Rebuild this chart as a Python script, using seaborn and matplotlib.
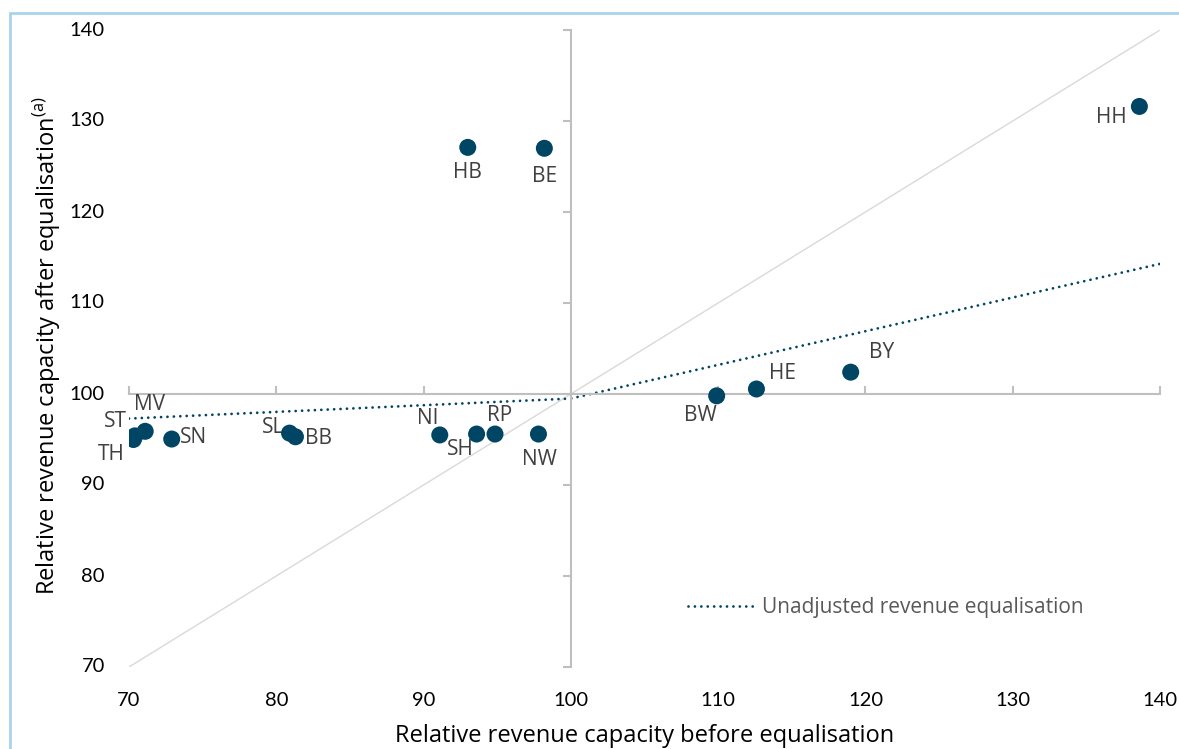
import matplotlib
matplotlib.use("Agg")
import matplotlib.pyplot as plt
import matplotlib.transforms as mtransforms
from matplotlib.patches import Rectangle
import pandas as pd
import seaborn as sns

# States: revenue capacity before / after equalisation
states = ["HH", "HB", "BE", "BY", "HE", "BW", "NW", "RP", "SH", "NI",
          "BB", "SL", "SN", "MV", "ST", "TH"]
before = [138.6, 93.0, 98.2, 119.0, 112.6, 109.9, 97.8, 94.85, 93.6, 91.1,
          81.3, 80.9, 72.9, 71.1, 70.4, 70.3]
after = [131.6, 127.1, 127.0, 102.4, 100.55, 99.8, 95.6, 95.6, 95.6, 95.5,
         95.3, 95.7, 95.05, 95.9, 95.4, 95.0]

# label offsets in points (dx, dy) and alignment
label_offsets = {
    "HH": (-9, -8, "right"), "HB": (0, -18, "center"), "BE": (0, -20, "center"),
    "BY": (13, 14, "left"), "HE": (9, 11, "left"), "BW": (-12, -14, "center"),
    "NW": (1, -18, "center"), "RP": (3, 13, "center"), "SH": (-12, -11, "center"),
    "NI": (-9, 12, "center"), "BB": (7, -1, "left"), "SL": (-12, 4, "center"),
    "SN": (6, 1, "left"), "MV": (3, 19, "center"), "ST": (-6, 10, "right"),
    "TH": (-6, -11, "right"),
}

# unadjusted revenue equalisation line
line_x = [70, 100, 140]
line_y = [97.3, 99.5, 114.3]

diag = [70, 140]
x_ticks = [70, 80, 90, 100, 110, 120, 130, 140]
y_ticks = [70, 80, 90, 100, 110, 120, 130, 140]

DOT = "#004563"
GRAY = "#404040"
AXIS = "#BFBFBF"


def main():
    sns.set_style("white")
    plt.rcParams["font.family"] = ["Open Sans", "DejaVu Sans"]
    plt.rcParams["mathtext.fontset"] = "custom"
    plt.rcParams["mathtext.rm"] = "Open Sans"

    df = pd.DataFrame({"state": states, "before": before, "after": after})

    fig = plt.figure(figsize=(11.79, 7.49), dpi=100)
    ax = fig.add_axes([129 / 1179, 1 - 667 / 749, 1031 / 1179, 637 / 749])

    sns.lineplot(x=diag, y=diag, ax=ax, color="#D9D9D9", lw=1)
    sns.lineplot(x=line_x, y=line_y, ax=ax, color=DOT, lw=2.0,
                 linestyle=(0, (0.01, 2.3)), dash_capstyle="round",
                 label="Unadjusted revenue equalisation")
    sns.scatterplot(data=df, x="before", y="after", ax=ax, color=DOT,
                    s=150, edgecolor="none", zorder=5)

    for st, xv, yv in zip(states, before, after):
        dx, dy, ha = label_offsets[st]
        ax.annotate(st, (xv, yv), xytext=(dx, dy), textcoords="offset points",
                    ha=ha, va="center", fontsize=15, color=GRAY)

    ax.set_xlim(70, 140)
    ax.set_ylim(70, 140)

    # axes cross at (100, 100)
    ax.spines["left"].set_position(("data", 100))
    ax.spines["bottom"].set_position(("data", 100))
    ax.spines["top"].set_visible(False)
    ax.spines["right"].set_visible(False)
    for s in ("left", "bottom"):
        ax.spines[s].set_color(AXIS)
        ax.spines[s].set_linewidth(1.5)

    ax.set_xticks(x_ticks)
    ax.set_yticks(y_ticks)
    ax.tick_params(axis="x", bottom=True, direction="in", length=6, width=1.5,
                   color=AXIS, labelbottom=False)
    ax.tick_params(axis="y", left=True, direction="out", length=6, width=1.5,
                   color=AXIS, labelleft=False)

    # tick labels sit at the outer edges of the plot area
    tx = mtransforms.blended_transform_factory(ax.transData, ax.transAxes)
    for v in x_ticks:
        ax.text(v, -0.052, str(v), transform=tx, ha="center", va="center",
                fontsize=14.5, family=["Lato", "DejaVu Sans"], color="black")
    ty = mtransforms.blended_transform_factory(ax.transAxes, ax.transData)
    for v in y_ticks:
        ax.text(-0.0235, v, str(v), transform=ty, ha="right", va="center",
                fontsize=14.5, family=["Lato", "DejaVu Sans"], color="black")

    ax.text(0.5, -0.108, "Relative revenue capacity before equalisation",
            transform=ax.transAxes, ha="center", va="center", fontsize=17,
            color="black")
    ax.text(-0.0795, 0.505,
            r"Relative revenue capacity after equalisation$^{\mathrm{(a)}}$",
            transform=ax.transAxes, ha="center", va="center", rotation=90,
            fontsize=17, color="black")

    leg = ax.legend(loc="center left", bbox_to_anchor=(0.542, 0.093),
                    frameon=False, fontsize=15, handlelength=3.2,
                    handletextpad=0.35, borderaxespad=0, borderpad=0)
    for t in leg.get_texts():
        t.set_color("#595959")

    ax.set_xlabel("")
    ax.set_ylabel("")

    # light blue frame around the chart
    fig.patches.append(Rectangle((10 / 1179, -0.05), 1.1, 1.05 - 13 / 749,
                                 transform=fig.transFigure, fill=False,
                                 edgecolor="#A8D4EA", lw=2))

    fig.savefig("out.png", dpi=100)


if __name__ == "__main__":
    main()
